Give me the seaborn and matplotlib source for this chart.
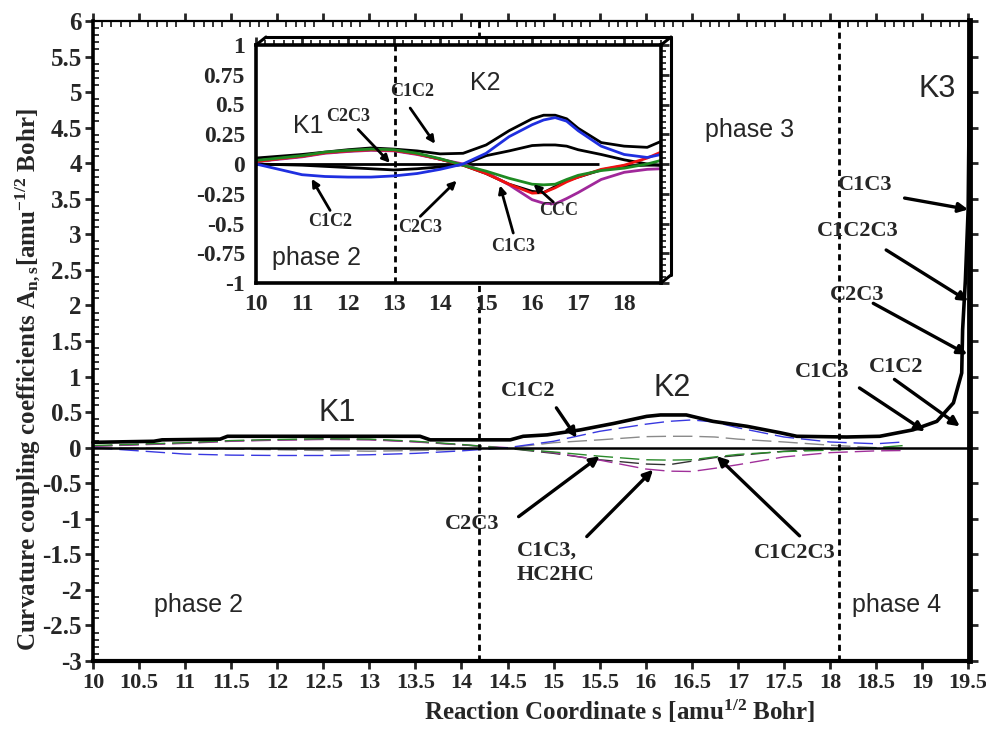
import numpy as np
import pandas as pd
import matplotlib
matplotlib.use("Agg")
import matplotlib.pyplot as plt
from matplotlib.lines import Line2D
from matplotlib.ticker import MultipleLocator, FormatStrFormatter
import seaborn as sns

# ---------------------------------------------------------------- data
# reaction coordinate of the individual coupling components
s_comp = [10.0, 10.5, 11.0, 11.5, 12.0, 12.5, 13.0, 13.5, 14.0, 14.5, 15.0,
          15.5, 16.0, 16.25, 16.5, 16.75, 17.0, 17.5, 18.0, 18.5, 18.8]
a_sum = [0.05, 0.065, 0.08, 0.10, 0.12, 0.135, 0.125, 0.11, 0.085, 0.09, 0.16,
         0.28, 0.38, 0.41, 0.41, 0.38, 0.30, 0.18, 0.15, 0.14, 0.19]
a_c1c2 = [0.0, -0.045, -0.09, -0.105, -0.11, -0.11, -0.10, -0.08, -0.045, 0.0, 0.09,
          0.23, 0.33, 0.37, 0.39, 0.36, 0.28, 0.15, 0.08, 0.055, 0.08]
a_hc2hc = [0.0, -0.005, -0.01, -0.02, -0.03, -0.04, -0.05, -0.04, -0.025, -0.005, 0.07,
           0.11, 0.155, 0.16, 0.16, 0.15, 0.12, 0.08, 0.035, 0.0, -0.01]
a_c2c3 = [0.03, 0.05, 0.07, 0.10, 0.115, 0.125, 0.12, 0.09, 0.045, -0.01, -0.06,
          -0.12, -0.17, -0.175, -0.17, -0.13, -0.095, -0.055, -0.035, 0.0, 0.03]
a_c1c2c3 = [0.02, 0.045, 0.065, 0.095, 0.11, 0.12, 0.115, 0.085, 0.04, -0.01, -0.08,
            -0.17, -0.245, -0.24, -0.20, -0.15, -0.11, -0.045, -0.01, 0.05, 0.10]
a_ccc = [0.02, 0.045, 0.065, 0.095, 0.11, 0.12, 0.115, 0.085, 0.04, -0.01, -0.08,
         -0.17, -0.23, -0.24, -0.19, -0.14, -0.11, -0.05, -0.015, -0.01, -0.01]
a_c1c3 = [0.02, 0.04, 0.06, 0.09, 0.105, 0.115, 0.11, 0.08, 0.04, 0.0, -0.07,
          -0.175, -0.30, -0.33, -0.335, -0.29, -0.24, -0.13, -0.07, -0.045, -0.04]

# total curvature coupling along the full path
s_total = [10.0, 10.66, 10.75, 11.38, 11.46, 13.55, 13.66, 14.53, 14.67, 14.93,
           15.29, 15.65, 16.01, 16.16, 16.44, 16.73, 17.1, 17.46, 17.64, 18.18,
           18.54, 18.9, 19.16, 19.34, 19.43, 19.44, 19.47, 19.5, 19.52]
a_total = [0.075, 0.09, 0.11, 0.12, 0.16, 0.16, 0.11, 0.11, 0.16, 0.18,
           0.25, 0.34, 0.44, 0.46, 0.46, 0.37, 0.30, 0.21, 0.16, 0.15,
           0.16, 0.25, 0.37, 0.63, 1.05, 1.66, 2.36, 3.35, 5.9]

# phase boundaries
phase_bounds_main = [14.19, 18.1]
phase_bound_inset = 13.02
inset_zero_end = 17.45

x_ticks_main = np.arange(10, 19.51, 0.5)
y_ticks_main = np.arange(-3, 6.01, 0.5)

# drawing order: black curves first, coloured ones on top
modes = ["sum", "HC2HC", "CCC", "C1C3", "C1C2C3", "C2C3", "C1C2"]
values = {"sum": a_sum, "HC2HC": a_hc2hc, "CCC": a_ccc, "C1C3": a_c1c3,
          "C1C2C3": a_c1c2c3, "C2C3": a_c2c3, "C1C2": a_c1c2}
comp = pd.DataFrame({
    "s": s_comp * len(modes),
    "A": sum((values[m] for m in modes), []),
    "mode": sum(([m] * len(s_comp) for m in modes), []),
})
total = pd.DataFrame({"s": s_total, "A": a_total})

inset_palette = {"sum": "black", "HC2HC": "black", "CCC": "black",
                 "C1C2": "#1f2fe0", "C2C3": "#1e8a22", "C1C2C3": "#f01010",
                 "C1C3": "#a0289a"}
main_palette = {"HC2HC": "#8a8a8a", "CCC": "#333333", "C1C3": "#a0309a",
                "C2C3": "#2a8a2a", "C1C2": "#3838e0"}

# ---------------------------------------------------------------- style
sns.set_style("white")
plt.rcParams.update({
    "font.family": ["Liberation Serif", "DejaVu Serif"],
    "font.weight": "bold",
    "axes.unicode_minus": False,
    "mathtext.fontset": "custom",
    "mathtext.rm": "Liberation Serif:bold",
    "mathtext.it": "Liberation Serif:bold",
    "mathtext.bf": "Liberation Serif:bold",
})
SANS = ["Liberation Sans", "DejaVu Sans"]

W, H = 986, 730
fig = plt.figure(figsize=(W / 100, H / 100), dpi=100)
fig.patch.set_facecolor("white")


def fbox(l, t, r, b):
    return [l / W, 1 - b / H, (r - l) / W, (b - t) / H]


# ---------------------------------------------------------------- main axes
ax = fig.add_axes(fbox(93, 21, 970, 661))
ax.set_xlim(10, 19.52)
ax.set_ylim(-3, 6)

main_modes = [m for m in modes if m in main_palette]
sns.lineplot(data=comp[comp["mode"].isin(main_modes)], x="s", y="A",
             hue="mode", hue_order=main_modes, palette=main_palette,
             estimator=None, legend=False,
             linewidth=1.0, linestyle=(0, (14, 5)), ax=ax, zorder=2)
ax.axhline(0, color="black", lw=1.8, zorder=3)
for xb in phase_bounds_main:
    ax.axvline(xb, color="black", lw=2, linestyle=(0, (2.2, 1.6)), zorder=3)
sns.lineplot(data=total, x="s", y="A", color="black", linewidth=2.6,
             estimator=None, sort=False, ax=ax, zorder=4, clip_on=False)

ax.set_xticks(x_ticks_main)
ax.set_yticks(y_ticks_main)
ax.xaxis.set_major_formatter(FormatStrFormatter("%g"))
ax.yaxis.set_major_formatter(FormatStrFormatter("%g"))
ax.xaxis.set_minor_locator(MultipleLocator(0.1))
ax.yaxis.set_minor_locator(MultipleLocator(0.1))
ax.tick_params(axis="x", which="major", direction="out", length=6, width=2,
               top=True, bottom=True, labelsize=16, pad=3)
ax.tick_params(axis="x", which="minor", direction="in", length=4, width=1.3,
               top=True, bottom=False)
ax.tick_params(axis="y", which="major", direction="out", length=6, width=2,
               left=True, right=True, labelsize=18, pad=2)
ax.tick_params(axis="y", which="minor", direction="in", length=4, width=1.3,
               left=True, right=False)
for lab in ax.get_xticklabels() + ax.get_yticklabels():
    lab.set_fontweight("bold")
for side, lw in {"left": 2.6, "bottom": 3.0, "right": 4.2, "top": 1.6}.items():
    ax.spines[side].set_linewidth(lw)
    ax.spines[side].set_color("black")

ax.set_xlabel(r"Reaction Coordinate s [amu$^{1/2}$ Bohr]", fontsize=18,
              fontweight="bold", va="center")
ax.set_ylabel(r"Curvature coupling coefficients A$_{n,s}$[amu$^{-1/2}$ Bohr]",
              fontsize=18, fontweight="bold", va="center")
ax.xaxis.set_label_coords(0.60, -0.079)
ax.yaxis.set_label_coords(-0.074, 0.44)

# labels inside the main panel
ax.text(12.65, 0.49, "K1", fontsize=22, family=SANS, ha="center", va="center",
        fontweight="normal")
ax.text(16.29, 0.84, "K2", fontsize=22, family=SANS, ha="center", va="center",
        fontweight="normal")
ax.text(19.16, 5.05, "K3", fontsize=22, family=SANS, ha="center", va="center",
        fontweight="normal")
ax.text(17.13, 4.47, "phase 3", fontsize=18, family=SANS, ha="center",
        va="center", fontweight="normal")
ax.text(11.14, -2.21, "phase 2", fontsize=18, family=SANS, ha="center",
        va="center", fontweight="normal")
ax.text(18.72, -2.21, "phase 4", fontsize=18, family=SANS, ha="center",
        va="center", fontweight="normal")

arrow_kw = dict(arrowstyle="-|>", color="black", lw=2.4, mutation_scale=14,
                shrinkA=0, shrinkB=0)


def label_arrow(axis, text, tpos, tail, tip, size, **kw):
    axis.text(tpos[0], tpos[1], text, fontsize=size, fontweight="bold",
              ha=kw.get("ha", "center"), va=kw.get("va", "center"),
              linespacing=kw.get("linespacing", 1.2), zorder=6)
    axis.annotate("", xy=tip, xytext=tail, arrowprops=arrow_kw,
                  annotation_clip=False, zorder=6)


label_arrow(ax, "C1C2", (14.72, 0.8), (15.03, 0.56), (15.25, 0.14), 16)
label_arrow(ax, "C2C3", (14.12, -1.08), (14.62, -0.97), (15.5, -0.12), 16)
label_arrow(ax, "C1C3,\nHC2HC", (14.6, -1.62), (15.36, -1.25), (16.08, -0.31), 16,
            ha="left", linespacing=1.35)
label_arrow(ax, "C1C2C3", (17.62, -1.48), (17.67, -1.24), (16.77, -0.12), 16)
label_arrow(ax, "C1C3", (18.38, 3.7), (18.81, 3.51), (19.5, 3.35), 16)
label_arrow(ax, "C1C2C3", (18.3, 3.04), (18.61, 2.78), (19.5, 2.06), 16)
label_arrow(ax, "C2C3", (18.29, 2.14), (18.47, 2.03), (19.49, 1.31), 16)
label_arrow(ax, "C1C3", (17.92, 1.07), (18.32, 0.84), (19.03, 0.23), 16)
label_arrow(ax, "C1C2", (18.72, 1.14), (18.7, 0.96), (19.41, 0.3), 16)

# ---------------------------------------------------------------- inset
# box drawn with a shallow perspective edge behind the frame
dx, dy = 10, -8
L, T, R, B = 256, 45, 661, 283
for (x0, y0), (x1, y1) in [((L, T), (L + dx, T + dy)), ((L + dx, T + dy), (R + dx, T + dy)),
                           ((R, T), (R + dx, T + dy)), ((R + dx, T + dy), (R + dx, B + dy)),
                           ((R, B), (R + dx, B + dy))]:
    fig.add_artist(Line2D([x0 / W, x1 / W], [1 - y0 / H, 1 - y1 / H],
                          color="black", lw=2.2, zorder=10))
fig.add_artist(plt.Rectangle((L / W, 1 - (T) / H), (R + dx - L) / W, -dy / H,
                             transform=fig.transFigure, color="white", zorder=4))
fig.add_artist(plt.Rectangle((R / W, 1 - (B + dy) / H), dx / W, (B - T) / H,
                             transform=fig.transFigure, color="white", zorder=4))

axi = fig.add_axes(fbox(L, T, R, B))
axi.set_zorder(8)
axi.set_facecolor("white")
axi.set_xlim(10, 18.8)
axi.set_ylim(-1, 1)
axi.hlines(0, s_comp[0], inset_zero_end, color="black", lw=2)
axi.axvline(phase_bound_inset, color="black", lw=2, linestyle=(0, (2.2, 1.6)))
sns.lineplot(data=comp, x="s", y="A", hue="mode", hue_order=modes,
             palette=inset_palette, estimator=None, legend=False,
             linewidth=2.0, ax=axi)

axi.xaxis.set_major_locator(MultipleLocator(1))
axi.xaxis.set_minor_locator(MultipleLocator(0.2))
axi.yaxis.set_major_locator(MultipleLocator(0.25))
axi.yaxis.set_minor_locator(MultipleLocator(0.05))
axi.xaxis.set_major_formatter(FormatStrFormatter("%g"))
axi.yaxis.set_major_formatter(FormatStrFormatter("%g"))
axi.tick_params(axis="both", which="major", direction="out", length=6, width=2,
                top=True, right=True, labelsize=17, pad=2)
axi.tick_params(axis="both", which="minor", direction="out", length=3.5,
                width=1.3, top=True, right=True)
for lab in axi.get_xticklabels() + axi.get_yticklabels():
    lab.set_fontweight("bold")
for sp in axi.spines.values():
    sp.set_linewidth(2.6)
    sp.set_color("black")
axi.set_xlabel("")
axi.set_ylabel("")

axi.text(14.98, 0.68, "K2", fontsize=18, family=SANS, ha="center", va="center",
         fontweight="normal")
axi.text(11.13, 0.32, "K1", fontsize=18, family=SANS, ha="center", va="center",
         fontweight="normal")
axi.text(11.32, -0.79, "phase 2", fontsize=18, family=SANS, ha="center",
         va="center", fontweight="normal")

arrow_kw_in = dict(arrowstyle="-|>", color="black", lw=2.0, mutation_scale=11,
                   shrinkA=0, shrinkB=0)


def inset_arrow(text, tpos, tail, tip):
    axi.text(tpos[0], tpos[1], text, fontsize=13, fontweight="bold",
             ha="center", va="center")
    axi.annotate("", xy=tip, xytext=tail, arrowprops=arrow_kw_in)


inset_arrow("C2C3", (12.0, 0.40), (12.22, 0.29), (12.91, 0.01))
inset_arrow("C1C2", (13.39, 0.61), (13.35, 0.47), (13.89, 0.17))
inset_arrow("C1C2", (11.61, -0.48), (11.61, -0.39), (11.21, -0.125))
inset_arrow("C2C3", (13.57, -0.53), (13.57, -0.44), (14.36, -0.14))
inset_arrow("C1C3", (15.59, -0.69), (15.59, -0.58), (15.3, -0.18))
inset_arrow("CCC", (16.57, -0.39), (16.46, -0.32), (16.03, -0.17))

fig.savefig("out.png", dpi=100, facecolor="white")
